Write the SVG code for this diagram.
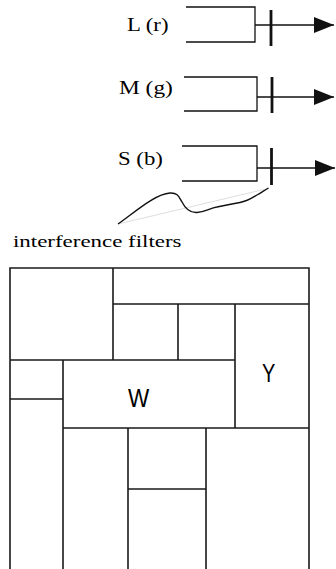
<svg xmlns="http://www.w3.org/2000/svg" width="336" height="569" viewBox="0 0 336 569">
<defs>
<style>
.lbl{font-family:"Liberation Serif","Times New Roman",serif;font-size:19px;fill:#000}
.box{fill:none;stroke:#111;stroke-width:1.3}
.wire{fill:none;stroke:#111;stroke-width:1.3}
.tick{stroke:#111;stroke-width:2.8}
.grid{fill:none;stroke:#1a1a1a;stroke-width:1.6}
.cell{font-family:"Liberation Sans",Arial,sans-serif;font-size:25px;fill:#000}
</style>
<marker id="arr" viewBox="0 0 20 16" refX="20" refY="8" markerWidth="20" markerHeight="16" markerUnits="userSpaceOnUse" orient="auto">
<path d="M0,0 L20,8 L0,16 Z" fill="#111"/>
</marker>
</defs>
<rect width="336" height="569" fill="#fff"/>
<g id="node-L">
<path class="box" d="M186,7 H255 V42 H186"/>
<text class="lbl" transform="translate(127,31) scale(1.2,1)">L (r)</text>
</g>
<g id="node-M">
<path class="box" d="M184,77 H257 V111 H184"/>
<text class="lbl" transform="translate(119,94) scale(1.23,1)">M (g)</text>
</g>
<g id="node-S">
<path class="box" d="M182,146 H257 V181 H182"/>
<text class="lbl" transform="translate(118,165) scale(1.2,1)">S (b)</text>
</g>
<g id="filters">
<line class="tick" x1="271" y1="10" x2="271" y2="46"/>
<line class="tick" x1="272" y1="77" x2="272" y2="113"/>
<line class="tick" x1="271.5" y1="148" x2="271.5" y2="185"/>
<text class="lbl" style="font-size:17.5px" transform="translate(13,247) scale(1.31,1)">interference filters</text>
</g>
<g id="connectors">
<line class="wire" x1="255" y1="25" x2="334" y2="25" marker-end="url(#arr)"/>
<line class="wire" x1="257" y1="97" x2="334" y2="97" marker-end="url(#arr)"/>
<line class="wire" x1="257" y1="168" x2="335" y2="168" marker-end="url(#arr)"/>
<line x1="118" y1="224" x2="268" y2="188.5" stroke="#c8c8c8" stroke-width="0.6"/>
<path d="M118,224 C135,212 155,194 170,193 C178,192.5 179,197 182,202 C185,208 190,213 197,212.5 C205,212 210,208 217,207 C227,205 232,204 240,202.5 C248,201 252,198 257,195 C262,192 265,190 268.5,188" fill="none" stroke="#111" stroke-width="1.4"/>
</g>
<g id="grid">
<path class="grid" d="M10,569 V268 H309 V569"/>
<path class="grid" d="M113,268 V360 M113,304 H309 M178,304 V360 M235,304 V428 M10,360 H235 M63,360 V569 M10,399 H63 M63,428 H309 M128,428 V569 M206,428 V569 M128,489 H206"/>
</g>
<g id="cell-W"><text class="cell" transform="translate(128,407) scale(0.9,1)">W</text></g>
<g id="cell-Y"><text class="cell" transform="translate(262,382) scale(0.8,1)">Y</text></g>
</svg>
